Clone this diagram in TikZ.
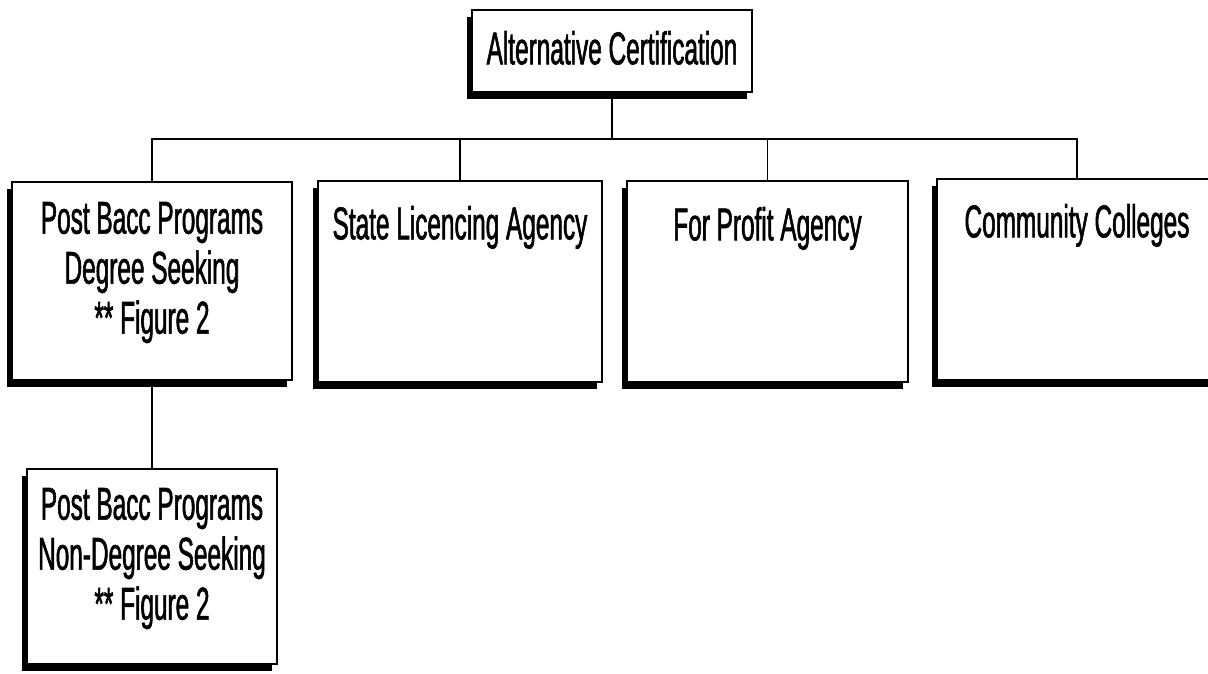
\documentclass[tikz,border=0pt]{standalone}
\usepackage{fontspec}
\setmainfont{Liberation Sans}[FakeStretch=0.53,FakeBold=1.2]
\usetikzlibrary{shadows}
\newcommand{\boxtxt}[4]{\parbox[t][#2][t]{#1}{\centering\vspace*{#3}#4\par}}
\tikzset{
  orgbox/.style={draw=black, line width=1.3pt, fill=white, inner sep=0pt, outer sep=0pt,
    anchor=north west, font=\fontsize{46}{50}\selectfont,
    general shadow={fill=black, shadow xshift=-5pt, shadow yshift=-7pt}},
  link/.style={draw=black, line width=1.4pt}
}
\begin{document}
\begin{tikzpicture}[x=1pt,y=-1pt]
\useasboundingbox[fill=white] (0,0) rectangle (1208,673);
\node[orgbox] (tb) at (472,10) {\boxtxt{280pt}{82pt}{21pt}{Alternative Certification}};
\node[orgbox] (b1) at (12,182) {\boxtxt{280pt}{198pt}{20pt}{Post Bacc Programs\\\relax Degree Seeking\\\relax ** Figure 2}};
\node[orgbox] (b2) at (318,181) {\boxtxt{284pt}{201pt}{25pt}{State Licencing Agency}};
\node[orgbox] (b3) at (627,181) {\boxtxt{281pt}{201pt}{26pt}{For Profit Agency}};
\node[orgbox] (b4) at (937,179) {\boxtxt{280pt}{201pt}{25pt}{Community Colleges}};
\node[orgbox] (b5) at (27,469) {\boxtxt{250pt}{195pt}{19pt}{Post Bacc Programs\\\relax Non-Degree Seeking\\\relax ** Figure 2}};
\coordinate (bus) at (0,139);
\draw[link] (tb.south) -- (tb.south |- bus);
\draw[link] (b1.north) -- (b1.north |- bus) -- (b4.north |- bus) -- (b4.north);
\draw[link] (b2.north) -- (b2.north |- bus);
\draw[link] (b3.north) -- (b3.north |- bus);
\draw[link] (b1.south) -- (b5.north);
\end{tikzpicture}
\end{document}
